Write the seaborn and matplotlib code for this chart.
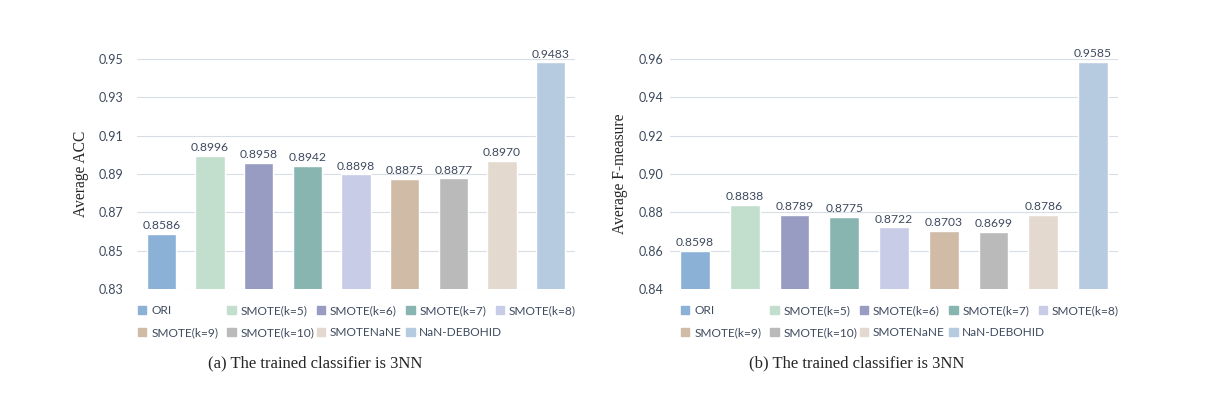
import pandas as pd
import matplotlib.pyplot as plt
import seaborn as sns

# data
methods = ['ORI', 'SMOTE(k=5)', 'SMOTE(k=6)', 'SMOTE(k=7)', 'SMOTE(k=8)',
           'SMOTE(k=9)', 'SMOTE(k=10)', 'SMOTENaNE', 'NaN-DEBOHID']
acc = [0.8586, 0.8996, 0.8958, 0.8942, 0.8898, 0.8875, 0.8877, 0.8970, 0.9483]
fmeasure = [0.8598, 0.8838, 0.8789, 0.8775, 0.8722, 0.8703, 0.8699, 0.8786, 0.9585]
acc_ticks = [0.83, 0.85, 0.87, 0.89, 0.91, 0.93, 0.95]
f_ticks = [0.84, 0.86, 0.88, 0.90, 0.92, 0.94, 0.96]
colors = ['#8BB1D6', '#C2DFCD', '#989BC2', '#88B5B0', '#C8CCE6',
          '#CFBBA6', '#BABABA', '#E4D9CE', '#B7CBE0']

sns.set_style("white")
plt.rcParams['font.family'] = ['Lato', 'DejaVu Sans']
text_color = '#3E4A5E'

df = pd.DataFrame({'method': methods, 'ACC': acc, 'F': fmeasure})

W = 1221
fig = plt.figure(figsize=(12.21, 3.97), dpi=100)
ax1 = fig.add_axes([137 / W, 0.272, 438 / W, 0.579])
ax2 = fig.add_axes([670 / W, 0.272, 448 / W, 0.579])

panels = [
    (ax1, 'ACC', acc_ticks, 'Average ACC', 10, 138, 315 / W, '(a) The trained classifier is 3NN'),
    (ax2, 'F', f_ticks, 'Average F-measure', 5, 681, 857 / W, '(b) The trained classifier is 3NN'),
]

for ax, col, ticks, ylabel, tpad, lx, cx, caption in panels:
    sns.barplot(data=df, x='method', y=col, hue='method', palette=colors,
                width=0.6, legend=False, ax=ax, saturation=1)
    ax.set_ylim(ticks[0], ticks[-1])
    ax.set_yticks(ticks)
    ax.set_yticklabels([f'{t:.2f}' for t in ticks], fontsize=9, color=text_color)
    ax.set_xticks([])
    ax.set_xlabel('')
    ax.set_ylabel(ylabel, family='Liberation Serif', fontsize=11.2, labelpad=7)
    ax.tick_params(axis='y', length=0, pad=tpad)
    ax.grid(axis='y', color='#D9DEE6', linewidth=0.8)
    ax.set_axisbelow(True)
    for s in ax.spines.values():
        s.set_visible(False)
    for c in ax.containers:
        labels = ax.bar_label(c, fmt='%.4f', fontsize=8.7, color=text_color, padding=2)
        for t in labels:
            t.set_clip_on(False)

    # legend: one small legend per column, equally spaced like the original
    for j in range(5):
        idx = [j, j + 5] if j + 5 < len(methods) else [j]
        handles = [plt.Rectangle((0, 0), 1, 1, color=colors[i]) for i in idx]
        fig.legend(handles, [methods[i] for i in idx],
                   frameon=False, loc='upper left',
                   bbox_to_anchor=((lx + j * 89.4) / W, 0.232),
                   fontsize=8.6, labelcolor=text_color, handlelength=0.7,
                   handleheight=0.7, handletextpad=0.4, labelspacing=0.95,
                   borderaxespad=0, borderpad=0)

    fig.text(cx, 0.085, caption, family='Liberation Serif', fontsize=12, ha='center', va='center')

plt.savefig('out.png', dpi=100)
plt.close()
